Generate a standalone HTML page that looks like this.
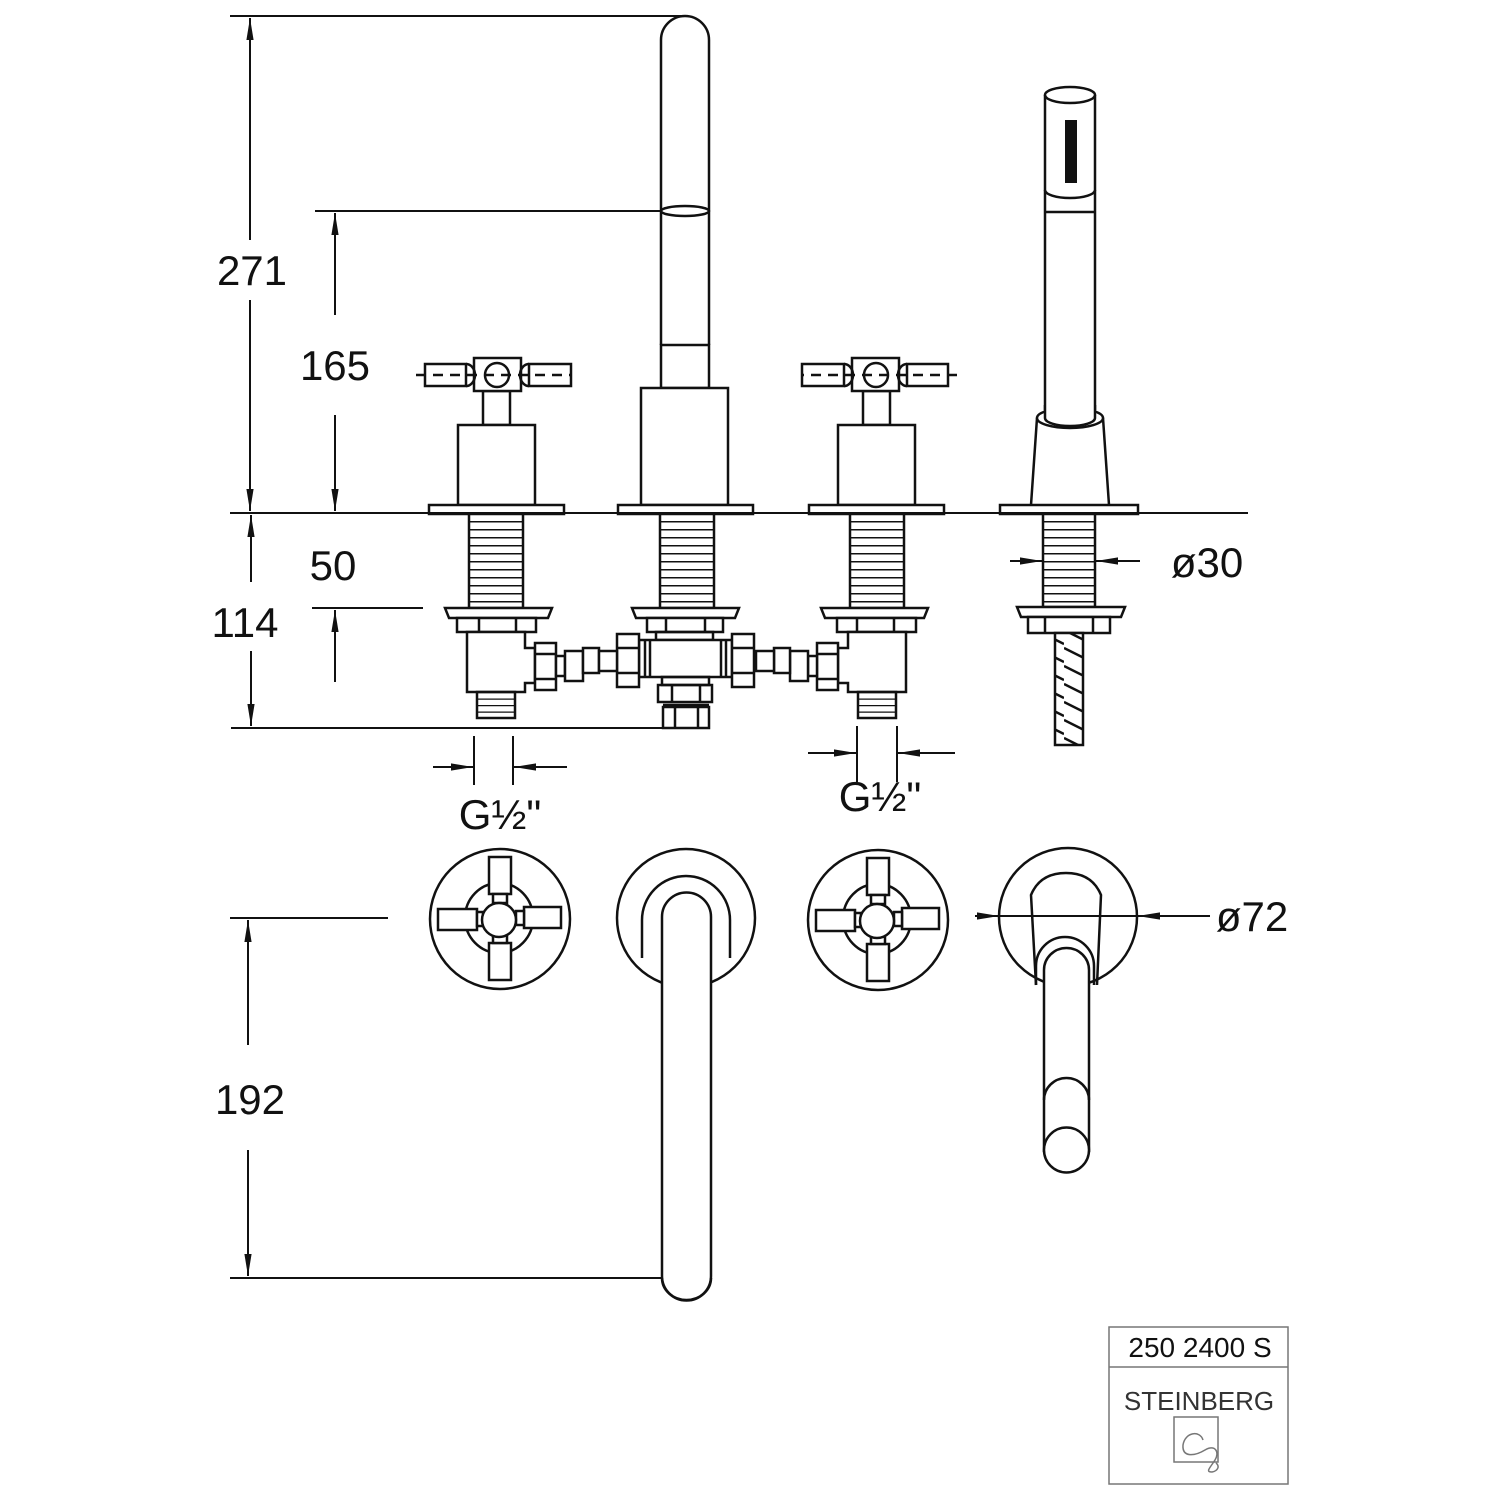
<!DOCTYPE html>
<html><head><meta charset="utf-8"><style>
html,body{margin:0;padding:0;background:#fff}
svg{display:block}
text{font-family:"Liberation Sans",sans-serif;fill:#111}
</style></head><body>
<svg width="1500" height="1500" viewBox="0 0 1500 1500" xmlns="http://www.w3.org/2000/svg">
<defs>
<pattern id="thr" x="0" y="513" width="10" height="8" patternUnits="userSpaceOnUse"><rect width="10" height="8" fill="#fff"/><line x1="0" y1="0" x2="10" y2="0" stroke="#111" stroke-width="3"/></pattern>
<pattern id="thr2" x="0" y="692" width="10" height="6.5" patternUnits="userSpaceOnUse"><rect width="10" height="6.5" fill="#fff"/><line x1="0" y1="0" x2="10" y2="0" stroke="#111" stroke-width="2.5"/></pattern>
<pattern id="hatch" x="0" y="0" width="28" height="18" patternUnits="userSpaceOnUse"><rect width="28" height="18" fill="#fff"/><line x1="0" y1="0" x2="28" y2="14" stroke="#111" stroke-width="2.5"/><line x1="0" y1="-18" x2="28" y2="-4" stroke="#111" stroke-width="2.5"/><line x1="0" y1="18" x2="28" y2="32" stroke="#111" stroke-width="2.5"/></pattern>
<marker id="ar" viewBox="0 0 10 10" refX="10" refY="5" markerWidth="22" markerHeight="9" markerUnits="userSpaceOnUse" orient="auto" preserveAspectRatio="none"><path d="M0,1 L10,5 L0,9 Z" fill="#111"/></marker>
<g id="valve" fill="#fff" stroke="#111" stroke-width="2.5">
  <rect x="483" y="391" width="27" height="34"/>
  <rect x="474" y="358" width="47" height="33"/>
  <rect x="425" y="364" width="41" height="22" fill="none"/>
  <rect x="529" y="364" width="42" height="22" fill="none"/>
  <line x1="416" y1="375" x2="571" y2="375" stroke-dasharray="10,7"/>
  <circle cx="497" cy="375" r="12" fill="none"/>
  <path d="M466,364 a9,11 0 0 1 0,22 M529,364 a9,11 0 0 0 0,22" fill="none"/>
  <rect x="458" y="425" width="77" height="80"/>
  <rect x="429" y="505" width="135" height="9"/>
  <rect x="469" y="514" width="54" height="94" fill="url(#thr)"/>
  <path d="M445,608 L552,608 L548,618 L449,618 Z"/>
  <rect x="457" y="618" width="79" height="14"/>
  <line x1="479" y1="618" x2="479" y2="632"/><line x1="516" y1="618" x2="516" y2="632"/>
  <path d="M467,632 L525,632 L525,648 L535,648 L535,683 L525,683 L525,692 L467,692 Z"/>
  <rect x="477" y="692" width="38" height="26" fill="url(#thr2)"/>
  <rect x="535" y="643" width="21" height="47"/>
  <line x1="535" y1="654" x2="556" y2="654"/><line x1="535" y1="679" x2="556" y2="679"/>
  <rect x="556" y="656" width="9" height="20"/>
  <rect x="565" y="651" width="18" height="30"/>
  <rect x="583" y="648" width="16" height="25"/>
  <rect x="599" y="651" width="18" height="20"/>
</g>
</defs>

<g fill="none" stroke="#111" stroke-width="2.5">
<path d="M661,345 L661,40 A24,24 0 0 1 709,40 L709,345"/>
<ellipse cx="685" cy="211" rx="24" ry="5"/>
<rect x="661" y="345" width="48" height="43"/>
<rect x="641" y="388" width="87" height="117" fill="#fff"/>
<rect x="618" y="505" width="135" height="9" fill="#fff"/>
<rect x="660" y="514" width="54" height="94" fill="url(#thr)"/>
<path d="M632,608 L739,608 L735,618 L636,618 Z" fill="#fff"/>
<rect x="647" y="618" width="76" height="14" fill="#fff"/>
<line x1="666" y1="618" x2="666" y2="632"/><line x1="705" y1="618" x2="705" y2="632"/>
<rect x="656" y="632" width="57" height="8"/>
<rect x="639" y="640" width="93" height="37" fill="#fff"/>
<line x1="645" y1="640" x2="645" y2="677"/><line x1="650" y1="640" x2="650" y2="677"/><line x1="721" y1="640" x2="721" y2="677"/><line x1="726" y1="640" x2="726" y2="677"/>
<rect x="617" y="634" width="22" height="53" fill="#fff"/>
<line x1="617" y1="648" x2="639" y2="648"/><line x1="617" y1="673" x2="639" y2="673"/>
<rect x="732" y="634" width="22" height="53" fill="#fff"/>
<line x1="732" y1="648" x2="754" y2="648"/><line x1="732" y1="673" x2="754" y2="673"/>
<rect x="662" y="677" width="47" height="8"/>
<rect x="658" y="685" width="54" height="17"/>
<line x1="672" y1="685" x2="672" y2="702"/><line x1="700" y1="685" x2="700" y2="702"/>
<line x1="663" y1="705" x2="709" y2="705"/>
<rect x="663" y="707" width="46" height="21"/>
<line x1="675" y1="707" x2="675" y2="728"/><line x1="698" y1="707" x2="698" y2="728"/>
</g>
<use href="#valve"/>
<use href="#valve" transform="translate(1373,0) scale(-1,1)"/>

<g fill="none" stroke="#111" stroke-width="2.5">
<path d="M1045,410 L1045,95 M1095,95 L1095,410"/>
<ellipse cx="1070" cy="95" rx="25" ry="8"/>
<rect x="1065" y="120" width="12" height="63" fill="#111" stroke="none"/>
<path d="M1045,190 A25,8 0 0 0 1095,190"/>
<line x1="1045" y1="212" x2="1095" y2="212"/>
<path d="M1037,418 L1031,505 M1103,418 L1109,505"/>
<ellipse cx="1070" cy="418" rx="33" ry="10" fill="#fff"/>
<path d="M1045,405 L1045,418 A25,8 0 0 0 1095,418 L1095,405" fill="#fff"/>
<rect x="1000" y="505" width="138" height="9" fill="#fff"/>
<rect x="1043" y="514" width="52" height="93" fill="url(#thr)"/>
<path d="M1017,607 L1125,607 L1121,617 L1021,617 Z" fill="#fff"/>
<rect x="1028" y="617" width="82" height="16" fill="#fff"/>
<line x1="1045" y1="617" x2="1045" y2="633"/><line x1="1093" y1="617" x2="1093" y2="633"/>
<rect x="1055" y="633" width="28" height="112" fill="url(#hatch)"/>

<g stroke-width="2">
<line x1="230" y1="513" x2="1248" y2="513"/>
<line x1="230" y1="16" x2="686" y2="16"/>
<line x1="315" y1="211" x2="661" y2="211"/>
<line x1="312" y1="608" x2="423" y2="608"/>
<line x1="231" y1="728" x2="709" y2="728"/>
<line x1="250" y1="240" x2="250" y2="18" marker-end="url(#ar)"/>
<line x1="250" y1="300" x2="250" y2="511" marker-end="url(#ar)"/>
<line x1="335" y1="315" x2="335" y2="213" marker-end="url(#ar)"/>
<line x1="335" y1="415" x2="335" y2="511" marker-end="url(#ar)"/>
<line x1="251" y1="582" x2="251" y2="515" marker-end="url(#ar)"/>
<line x1="251" y1="651" x2="251" y2="726" marker-end="url(#ar)"/>
<line x1="335" y1="682" x2="335" y2="610" marker-end="url(#ar)"/>
<line x1="474" y1="736" x2="474" y2="785"/><line x1="513" y1="736" x2="513" y2="785"/>
<line x1="433" y1="767" x2="473" y2="767" marker-end="url(#ar)"/>
<line x1="567" y1="767" x2="514" y2="767" marker-end="url(#ar)"/>
<line x1="857" y1="726" x2="857" y2="782"/><line x1="897" y1="726" x2="897" y2="782"/>
<line x1="808" y1="753" x2="856" y2="753" marker-end="url(#ar)"/>
<line x1="955" y1="753" x2="898" y2="753" marker-end="url(#ar)"/>
<line x1="1010" y1="561" x2="1042" y2="561" marker-end="url(#ar)"/>
<line x1="1140" y1="561" x2="1096" y2="561" marker-end="url(#ar)"/>
<line x1="230" y1="918" x2="388" y2="918"/>
<line x1="230" y1="1278" x2="665" y2="1278"/>
<line x1="248" y1="1045" x2="248" y2="920" marker-end="url(#ar)"/>
<line x1="248" y1="1150" x2="248" y2="1276" marker-end="url(#ar)"/>
<line x1="975" y1="916" x2="999" y2="916" marker-end="url(#ar)"/>
<line x1="1000" y1="916" x2="1137" y2="916"/>
<line x1="1210" y1="916" x2="1138" y2="916" marker-end="url(#ar)"/>
</g>

<g id="cross">
<circle cx="500" cy="919" r="70"/>
<ellipse cx="499" cy="918" rx="34" ry="35"/>
<rect x="489" y="857" width="22" height="37" fill="#fff"/>
<rect x="489" y="943" width="22" height="37" fill="#fff"/>
<rect x="438" y="909" width="39" height="21" fill="#fff"/>
<rect x="524" y="907" width="37" height="21" fill="#fff"/>
<rect x="493" y="894" width="14" height="9" fill="#fff"/>
<rect x="493" y="935" width="14" height="8" fill="#fff"/>
<rect x="477" y="912" width="6" height="14" fill="#fff"/>
<rect x="516" y="911" width="8" height="14" fill="#fff"/>
<ellipse cx="499" cy="920" rx="17" ry="17" fill="#fff"/>
</g>
<use href="#cross" transform="translate(378,1)"/>
<circle cx="686" cy="918" r="69"/>
<path d="M642,958 L642,920 A44,44 0 0 1 730,920 L730,958"/>
<path d="M662,1276 L662,917 A24.5,24.5 0 0 1 711,917 L711,1276 A24.5,24.5 0 0 1 662,1276" fill="#fff"/>
<path d="M662,1278 A24.5,22 0 0 0 711,1278"/>
<circle cx="1068" cy="917" r="69"/>
<path d="M1036,985 L1031,895 Q1040,873 1066,873 Q1092,873 1101,895 L1097,985"/>
<path d="M1036,985 L1036,966 A29,29 0 0 1 1094,966 L1094,985"/>
<path d="M1044,1152 L1044,970 A22.5,22 0 0 1 1089,970 L1089,1152" fill="#fff"/>
<path d="M1044,1100 A22.5,22 0 0 1 1089,1100"/>
<circle cx="1066.5" cy="1150" r="22.5" fill="#fff"/>
</g>

<g font-size="42" text-anchor="middle">
<text x="252" y="285">271</text>
<text x="335" y="380">165</text>
<text x="333" y="580">50</text>
<text x="245" y="637">114</text>
<text x="500" y="829">G½"</text>
<text x="880" y="811">G½"</text>
<text x="1207" y="577">ø30</text>
<text x="1252" y="931">ø72</text>
<text x="250" y="1114">192</text>
</g>

<g fill="none" stroke="#777" stroke-width="1.5">
<rect x="1109" y="1327" width="179" height="157"/>
<line x1="1109" y1="1367" x2="1288" y2="1367"/>
<rect x="1174" y="1417" width="44" height="45"/>
<path d="M1203,1440 C1200,1430 1185,1432 1183,1445 C1182,1458 1195,1456 1205,1450 C1215,1444 1220,1452 1215,1460 C1210,1468 1205,1472 1212,1472 C1218,1471 1220,1466 1216,1463"/>
</g>
<text x="1200" y="1357" font-size="28" text-anchor="middle">250 2400 S</text>
<text x="1199" y="1410" font-size="26" text-anchor="middle" style="fill:#333">STEINBERG</text>
</svg>
</body></html>
